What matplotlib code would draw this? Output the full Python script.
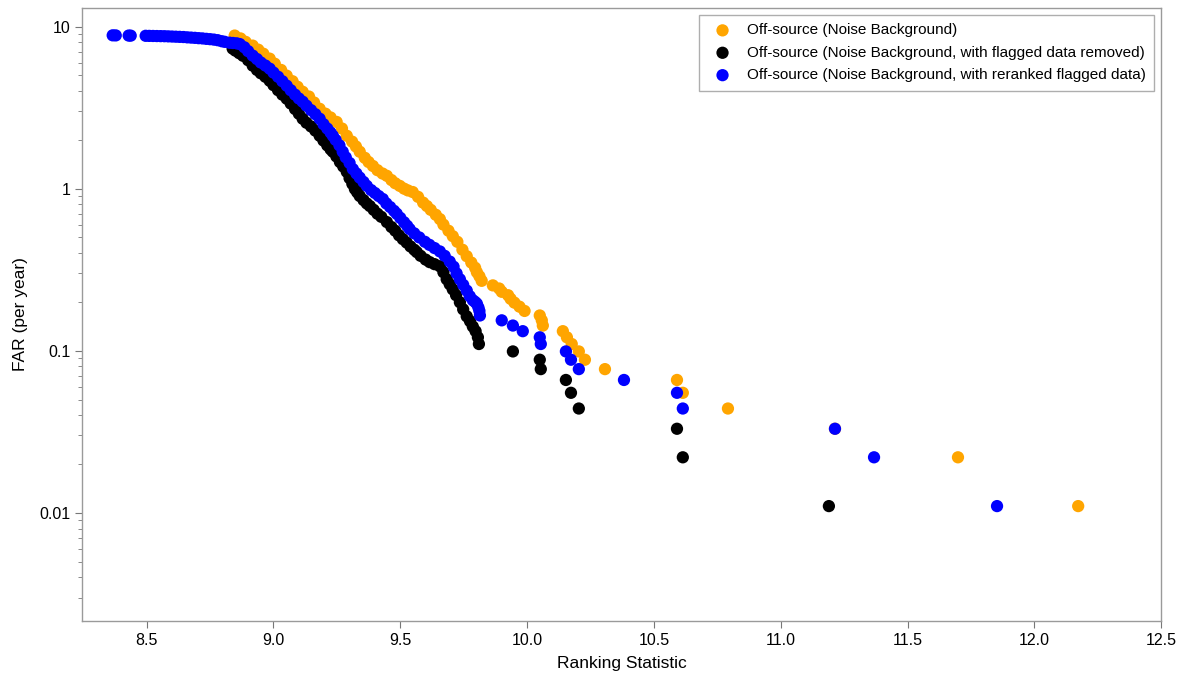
import numpy as np
import matplotlib
matplotlib.use('Agg')
import matplotlib.pyplot as plt
from matplotlib.ticker import FixedLocator, FuncFormatter, LogLocator, NullFormatter

plt.rcParams['font.family'] = ['Liberation Sans', 'DejaVu Sans']

# Off-source background (full)
orange_x = [8.847, 8.87, 8.89, 8.918, 8.94, 8.96, 8.985, 9.005, 9.03, 9.052, 9.075, 9.095,
            9.115, 9.14, 9.16, 9.182, 9.205, 9.225, 9.249, 9.27, 9.289, 9.31, 9.325, 9.340,
            9.36, 9.375, 9.392, 9.41, 9.43, 9.447, 9.465, 9.48, 9.498, 9.515, 9.53, 9.549,
            9.57, 9.59, 9.605, 9.62, 9.64, 9.656, 9.67, 9.69, 9.707, 9.725, 9.745, 9.762,
            9.78, 9.795, 9.802, 9.812, 9.821,
            9.865, 9.89, 9.90, 9.925, 9.935, 9.95, 9.97, 9.99, 10.050, 10.058, 10.062,
            10.141, 10.157, 10.176, 10.204, 10.228, 10.307, 10.591, 10.614, 10.792,
            11.214, 11.699, 12.173]
orange_far = [8.80, 8.45, 8.05, 7.63, 7.2, 6.8, 6.34, 5.9, 5.4, 4.98, 4.6, 4.25,
              3.96, 3.7, 3.4, 3.11, 2.9, 2.75, 2.58, 2.35, 2.12, 1.95, 1.82, 1.69,
              1.55, 1.46, 1.38, 1.3, 1.24, 1.20, 1.13, 1.08, 1.04, 1.00, 0.975, 0.953,
              0.89, 0.82, 0.781, 0.74, 0.69, 0.649, 0.6, 0.55, 0.509, 0.47, 0.42, 0.383,
              0.35, 0.325, 0.305, 0.288, 0.27,
              0.253, 0.242, 0.231, 0.22, 0.209, 0.198, 0.187, 0.176, 0.165, 0.154, 0.143,
              0.132, 0.121, 0.11, 0.099, 0.088, 0.077, 0.066, 0.055, 0.044,
              0.033, 0.022, 0.011]

# flagged data removed
black_x = [8.839, 8.85, 8.865, 8.88, 8.90, 8.918, 8.935, 8.95, 8.968, 8.985, 9.0, 9.018,
           9.035, 9.052, 9.068, 9.085, 9.10, 9.115, 9.13, 9.148, 9.165, 9.182, 9.197, 9.212,
           9.225, 9.234, 9.248, 9.262, 9.275, 9.289, 9.30, 9.311, 9.321, 9.33, 9.340, 9.355,
           9.368, 9.380, 9.395, 9.41, 9.425, 9.447, 9.465, 9.48, 9.495, 9.510, 9.525, 9.54,
           9.555, 9.565, 9.58, 9.60, 9.616, 9.635, 9.656, 9.67, 9.683, 9.695, 9.707, 9.72,
           9.735, 9.748, 9.762, 9.775, 9.786, 9.797, 9.806, 9.810,
           9.944, 10.050, 10.054, 10.153, 10.173, 10.204, 10.591, 10.614, 11.190]
black_far = [7.31, 7.1, 6.85, 6.6, 6.2, 5.74, 5.4, 5.15, 4.9, 4.63, 4.35, 4.05,
             3.8, 3.59, 3.35, 3.1, 2.9, 2.70, 2.55, 2.42, 2.28, 2.12, 1.98, 1.85,
             1.75, 1.69, 1.58, 1.46, 1.37, 1.27, 1.16, 1.07, 0.995, 0.95, 0.901, 0.85,
             0.81, 0.781, 0.74, 0.70, 0.67, 0.622, 0.58, 0.55, 0.515, 0.488, 0.465, 0.44,
             0.42, 0.406, 0.385, 0.365, 0.352, 0.342, 0.332, 0.305, 0.276, 0.257, 0.239, 0.22,
             0.199, 0.18, 0.163, 0.152, 0.141, 0.132, 0.121, 0.11,
             0.099, 0.088, 0.077, 0.066, 0.055, 0.044, 0.033, 0.022, 0.011]

# reranked flagged data
blue_x = [8.366, 8.378, 8.429, 8.437, 8.496, 8.51, 8.525, 8.54, 8.555, 8.57, 8.585, 8.60,
          8.615, 8.63, 8.645, 8.66, 8.675, 8.69, 8.705, 8.72, 8.735, 8.75, 8.765, 8.78,
          8.796, 8.808, 8.827,
          8.84, 8.855, 8.867, 8.885, 8.90, 8.918, 8.935, 8.95, 8.968, 8.985, 9.0, 9.018,
          9.035, 9.052, 9.068, 9.085, 9.10, 9.115, 9.13, 9.148, 9.165, 9.182, 9.197, 9.212,
          9.225, 9.234, 9.245, 9.26, 9.273, 9.285, 9.30, 9.313, 9.327, 9.34, 9.355, 9.368,
          9.385, 9.40, 9.415, 9.431, 9.445, 9.46, 9.475, 9.486, 9.50, 9.515, 9.527, 9.537,
          9.555, 9.575, 9.597, 9.615, 9.635, 9.656, 9.675, 9.695, 9.71, 9.722, 9.735, 9.748,
          9.762, 9.774, 9.786, 9.795, 9.802, 9.808, 9.812,
          9.814, 9.900, 9.944, 9.983, 10.050, 10.054, 10.153, 10.173, 10.204, 10.382,
          10.591, 10.614, 11.214, 11.368, 11.853]
blue_far = [8.83, 8.82, 8.80, 8.79, 8.77, 8.76, 8.75, 8.74, 8.73, 8.72, 8.70, 8.68,
            8.66, 8.64, 8.62, 8.58, 8.55, 8.52, 8.48, 8.45, 8.40, 8.36, 8.31, 8.24,
            8.12, 8.05, 7.95,
            7.92, 7.88, 7.8, 7.45, 7.05, 6.62, 6.3, 6.0, 5.75, 5.50, 5.2, 4.9,
            4.6, 4.32, 4.05, 3.8, 3.6, 3.44, 3.25, 3.05, 2.88, 2.70, 2.5, 2.35,
            2.22, 2.12, 2.0, 1.85, 1.69, 1.56, 1.44, 1.32, 1.24, 1.17, 1.10, 1.04,
            0.98, 0.94, 0.90, 0.863, 0.81, 0.77, 0.73, 0.70, 0.66, 0.62, 0.59, 0.563,
            0.53, 0.50, 0.47, 0.45, 0.43, 0.41, 0.385, 0.355, 0.33, 0.30, 0.276, 0.255,
            0.235, 0.217, 0.205, 0.2, 0.195, 0.185, 0.176,
            0.165, 0.154, 0.143, 0.132, 0.121, 0.11, 0.099, 0.088, 0.077, 0.066,
            0.055, 0.044, 0.033, 0.022, 0.011]

labels = ['Off-source (Noise Background)',
          'Off-source (Noise Background, with flagged data removed)',
          'Off-source (Noise Background, with reranked flagged data)']

fig = plt.figure(figsize=(11.8, 6.75), dpi=100)
ax = fig.add_axes([0.0695, 0.080, 0.9145, 0.908])

ax.scatter(orange_x, orange_far, s=78, color='orange', edgecolors='none', label=labels[0], zorder=2)
ax.scatter(black_x, black_far, s=78, color='black', edgecolors='none', label=labels[1], zorder=3)
ax.scatter(blue_x, blue_far, s=78, color='blue', edgecolors='none', label=labels[2], zorder=4)

ax.set_yscale('log')
ax.set_xlim(8.245, 12.5)
ax.set_ylim(0.00215, 13)

ax.xaxis.set_major_locator(FixedLocator([8.5, 9.0, 9.5, 10.0, 10.5, 11.0, 11.5, 12.0, 12.5]))
ax.xaxis.set_major_formatter(FuncFormatter(lambda v, p: '%.1f' % v))
ax.yaxis.set_major_locator(FixedLocator([0.01, 0.1, 1, 10]))
ax.yaxis.set_major_formatter(FuncFormatter(lambda v, p: '%g' % v))
ax.yaxis.set_minor_locator(LogLocator(base=10, subs=np.arange(2, 10)))
ax.yaxis.set_minor_formatter(NullFormatter())

for sp in ax.spines.values():
    sp.set_color('#9a9a9a')
    sp.set_linewidth(1.0)
ax.tick_params(axis='both', which='major', direction='out', length=5, color='#777777',
               labelsize=11.5, top=False, right=False)
ax.tick_params(axis='y', which='minor', direction='out', length=3, color='#777777', right=False)

ax.set_xlabel('Ranking Statistic', fontsize=12.5, labelpad=6)
ax.set_ylabel('FAR (per year)', fontsize=12.5, labelpad=8)

leg = ax.legend(loc='upper right', fontsize=11, frameon=True, fancybox=False,
                handletextpad=0.6, borderpad=0.55, labelspacing=0.55, scatterpoints=1,
                bbox_to_anchor=(1.0, 1.0), borderaxespad=0.45)
leg.get_frame().set_edgecolor('#9a9a9a')
leg.get_frame().set_linewidth(1.0)

fig.savefig('out.png', dpi=100)
